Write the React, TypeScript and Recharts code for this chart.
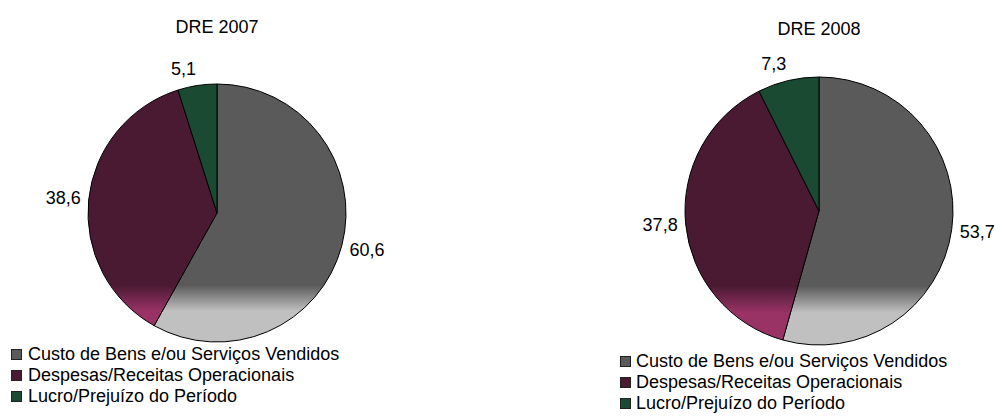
import React from "react"
import { Cell, Legend, Pie, PieChart } from "recharts"

const categories = [
  "Custo de Bens e/ou Serviços Vendidos",
  "Despesas/Receitas Operacionais",
  "Lucro/Prejuízo do Período",
]
const values2007 = [60.6, 38.6, 5.1]
const values2008 = [53.7, 37.8, 7.3]
const titles = ["DRE 2007", "DRE 2008"]

// dark top colour, light bottom colour for the gradient fill
const DARK = ["#5a5a5a", "#4a1a32", "#1a4a32"]
const LIGHT = ["#c0c0c0", "#993366", "#1a4a32"]

const FONT = "Arial, 'Liberation Sans', sans-serif"

const fmt = (v: number) => v.toFixed(1).replace(".", ",")

const renderLabel = (props: any) => {
  const { cx, cy, midAngle, outerRadius, value } = props
  const rad = Math.PI / 180
  const dx = Math.cos(-midAngle * rad)
  const dy = Math.sin(-midAngle * rad)
  const text = fmt(value)
  const halfW = (text.length * 10 - 5) / 2
  const x = cx + (outerRadius + 8) * dx + Math.sign(dx) * halfW
  const y = cy + (outerRadius + 8) * dy + dy * 9
  return (
    <text x={x} y={y} textAnchor="middle" dominantBaseline="central" fontSize={18} fontFamily={FONT} fill="#000">
      {text}
    </text>
  )
}

const LegendBox = ({ gap }: { gap: number }) => (
  <div style={{ fontFamily: FONT, fontSize: 18, color: "#000" }}>
    {categories.map((name, i) => (
      <div key={name} style={{ display: "flex", alignItems: "center", height: 21, whiteSpace: "nowrap" }}>
        <span
          style={{
            display: "inline-block",
            width: 9,
            height: 9,
            background: DARK[i],
            border: "1px solid #222",
            marginRight: gap,
          }}
        />
        {name}
      </div>
    ))}
  </div>
)

type BlockProps = {
  id: string
  title: string
  values: number[]
  left: number
  width: number
  cx: number
  cy: number
  r: number
  titleY: number
  legendX: number
  legendY: number
  gap: number
}

function DrePie({ id, title, values, left, width, cx, cy, r, titleY, legendX, legendY, gap }: BlockProps) {
  const data = categories.map((name, i) => ({ name, value: values[i] }))
  return (
    <div style={{ position: "absolute", left, top: 0, width, height: 417 }}>
      <div
        style={{
          position: "absolute",
          left: cx - 100,
          width: 200,
          top: titleY - 10,
          lineHeight: "20px",
          textAlign: "center",
          fontFamily: FONT,
          fontSize: 18,
        }}
      >
        {title}
      </div>
      <PieChart width={width} height={417} margin={{ top: 0, right: 0, bottom: 0, left: 0 }}>
        <defs>
          {DARK.map((c, i) => (
            <linearGradient
              key={i}
              id={`${id}-g${i}`}
              gradientUnits="userSpaceOnUse"
              x1={0}
              y1={cy - r}
              x2={0}
              y2={cy + r}
            >
              <stop offset="0" stopColor={c} />
              <stop offset="0.78" stopColor={c} />
              <stop offset="0.88" stopColor={LIGHT[i]} />
              <stop offset="1" stopColor={LIGHT[i]} />
            </linearGradient>
          ))}
        </defs>
        <Pie
          data={data}
          dataKey="value"
          cx={cx}
          cy={cy}
          outerRadius={r}
          startAngle={90}
          endAngle={-270}
          stroke="#000"
          strokeWidth={1}
          labelLine={false}
          label={renderLabel}
          isAnimationActive={false}
        >
          {data.map((entry, index) => (
            <Cell key={`cell-${index}`} fill={`url(#${id}-g${index})`} />
          ))}
        </Pie>
        <Legend
          content={() => <LegendBox gap={gap} />}
          wrapperStyle={{ position: "absolute", left: legendX, top: legendY, width: "auto", bottom: "auto" }}
        />
      </PieChart>
    </div>
  )
}

export default function App() {
  return (
    <div style={{ position: "absolute", left: 0, top: 0, width: 995, height: 417, background: "#fff" }}>
      <DrePie
        id="d07"
        title={titles[0]}
        values={values2007}
        left={0}
        width={497}
        cx={217}
        cy={213}
        r={129}
        titleY={27}
        legendX={11}
        legendY={344}
        gap={6}
      />
      <DrePie
        id="d08"
        title={titles[1]}
        values={values2008}
        left={497}
        width={498}
        cx={322}
        cy={211}
        r={134}
        titleY={29}
        legendX={123}
        legendY={351}
        gap={5}
      />
    </div>
  )
}
